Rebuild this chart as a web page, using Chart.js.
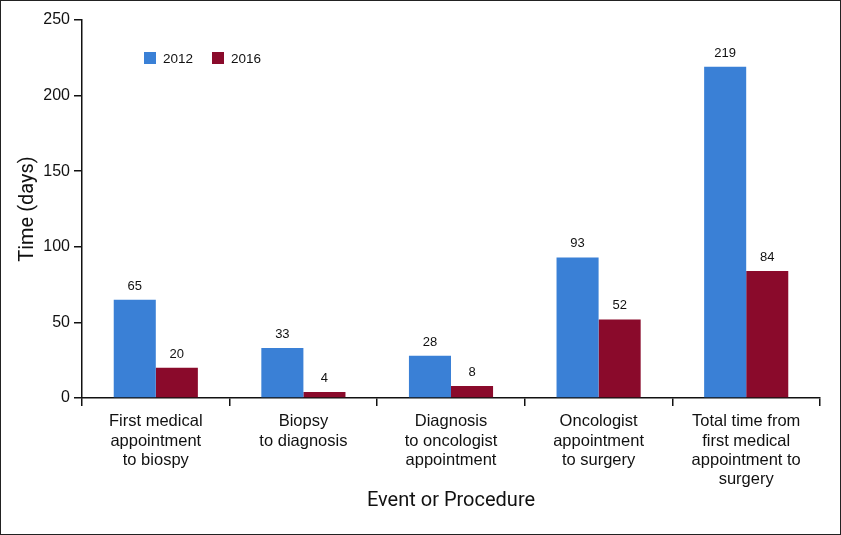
<!DOCTYPE html>
<html>
<head>
<meta charset="utf-8">
<script src="https://cdn.jsdelivr.net/npm/chart.js@4"></script>
<style>
  html, body { margin: 0; padding: 0; background: #fff; }
  #wrap { width: 841px; height: 535px; position: relative; }
</style>
</head>
<body>
<div id="wrap"><canvas id="timeChart" width="841" height="535"></canvas></div>
<script>
const categories = [
    ['First medical', 'appointment', 'to biospy'],
    ['Biopsy', 'to diagnosis'],
    ['Diagnosis', 'to oncologist', 'appointment'],
    ['Oncologist', 'appointment', 'to surgery'],
    ['Total time from', 'first medical', 'appointment to', 'surgery']
];
const days2012 = [65, 33, 28, 93, 219];
const days2016 = [20, 4, 8, 52, 84];
const yTicks = [0, 50, 100, 150, 200, 250];

const FONT = "'Liberation Sans', Arial, sans-serif";

// value labels above each bar
const barValues = {
    id: 'barValues',
    afterDatasetsDraw(chart) {
        const ctx = chart.ctx;
        ctx.save();
        ctx.fillStyle = '#111';
        ctx.font = '13px ' + FONT;
        ctx.textAlign = 'center';
        ctx.textBaseline = 'bottom';
        chart.data.datasets.forEach((ds, i) => {
            chart.getDatasetMeta(i).data.forEach((bar, j) => {
                ctx.fillText(ds.data[j], bar.x, bar.y - 7);
            });
        });
        ctx.restore();
    }
};

// small legend inside the plot, plus the frame around the picture
const legendAndFrame = {
    id: 'legendAndFrame',
    afterDraw(chart) {
        const ctx = chart.ctx;
        ctx.save();
        let x = 144;
        const y = 58;
        ctx.font = '13.5px ' + FONT;
        ctx.textBaseline = 'middle';
        chart.data.datasets.forEach(ds => {
            ctx.fillStyle = ds.backgroundColor;
            ctx.fillRect(x, y - 6, 12, 12);
            ctx.fillStyle = '#111';
            ctx.fillText(ds.label, x + 19, y + 1);
            x += 68;
        });
        ctx.strokeStyle = '#222';
        ctx.lineWidth = 1;
        ctx.strokeRect(0.5, 0.5, chart.width - 1, chart.height - 1);
        ctx.restore();
    }
};

new Chart(document.getElementById('timeChart'), {
    type: 'bar',
    data: {
        labels: categories,
        datasets: [
            { label: '2012', data: days2012, backgroundColor: '#3a80d6' },
            { label: '2016', data: days2016, backgroundColor: '#8a0a2b' }
        ]
    },
    options: {
        responsive: false,
        animation: false,
        layout: { padding: { top: 20, right: 21, bottom: 0, left: 0 } },
        categoryPercentage: 0.57,
        barPercentage: 1.0,
        plugins: {
            legend: { display: false },
            tooltip: { enabled: false }
        },
        scales: {
            x: {
                grid: { drawOnChartArea: false, offset: true, tickLength: 8, color: '#111', lineWidth: 1.5 },
                border: { color: '#111', width: 1.5 },
                ticks: { color: '#111', font: { family: FONT, size: 16.5, lineHeight: 1.17 }, maxRotation: 0, padding: 6 },
                title: { display: true, text: 'Event or Procedure', color: '#111', font: { family: "Roboto, sans-serif", size: 20 }, padding: { top: 0, bottom: 22 } },
                afterFit(scale) { scale.height = 137; }
            },
            y: {
                min: 0,
                max: 250,
                afterBuildTicks(scale) { scale.ticks = yTicks.map(v => ({ value: v })); },
                grid: { drawOnChartArea: false, tickLength: 8, color: '#111', lineWidth: 1.5 },
                border: { color: '#111', width: 1.5 },
                ticks: { color: '#111', font: { family: FONT, size: 16 }, padding: 4 },
                title: { display: true, text: 'Time (days)', color: '#111', font: { family: "Roboto, sans-serif", size: 20 }, padding: { top: 16, bottom: 0 } },
                afterFit(scale) { scale.width = 82; }
            }
        }
    },
    plugins: [barValues, legendAndFrame]
});
</script>
</body>
</html>
